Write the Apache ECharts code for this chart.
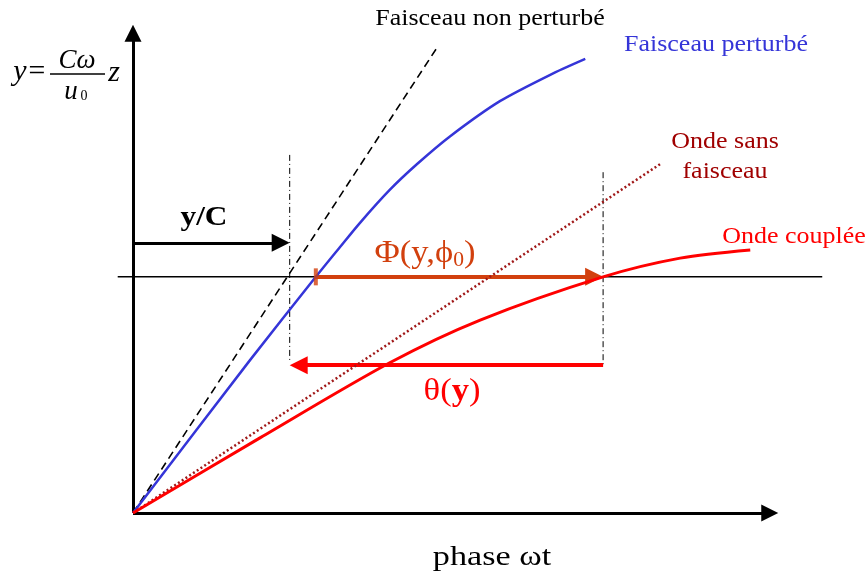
<!DOCTYPE html>
<html>
<head>
<meta charset="utf-8">
<script src="https://cdn.jsdelivr.net/npm/echarts@6/dist/echarts.min.js"></script>
<style>
  html, body { margin: 0; padding: 0; background: #fff; }
  #chart { width: 866px; height: 579px; }
</style>
</head>
<body>
<div id="chart"></div>
<script>
// phase (x) et y en unites arbitraires, un peu de marge autour de l'origine
var xMin = -0.5, xMax = 11.5, yMin = -0.5, yMax = 10.5;

// axes dessines comme des fleches (pointe a l'extremite)
var axeX = [[0, 0], [10.13, 0]];
var axeY = [[0, 0], [0, 10.17]];

var faisceauNonPerturbe = [[0, 0], [4.77, 9.69]];
var faisceauPerturbe = [[0, 0], [1.84, 3.19], [2.87, 4.92], [3.25, 5.54], [3.56, 6.04], [4.03, 6.73],
                        [4.46, 7.27], [4.98, 7.85], [5.76, 8.58], [6.55, 9.13], [7.10, 9.46]];
var ondeSansFaisceau = [[0, 0], [8.30, 7.29]];
var ondeCouplee = [[0, 0], [2.0, 1.57], [4.03, 3.13], [5.45, 4.02], [7.38, 4.92], [8.59, 5.31], [9.69, 5.48]];

// niveau y de reference et reperes verticaux
var niveauRef = [[-0.24, 4.92], [10.82, 4.92]];
var repere1 = [[2.46, 7.46], [2.46, 3.19]];
var repere2 = [[7.38, 7.10], [7.38, 3.08]];

// fleches
var flecheYC = [[0, 5.63], [2.46, 5.63]];
var flechePhi = [[2.87, 4.92], [7.38, 4.92]];
var flecheTheta = [[7.38, 3.08], [2.46, 3.08]];

var serif = '"Liberation Serif", "DejaVu Serif", serif';
var rougePhi = '#D2400E';

var grille = { left: 101.15, right: 0.45, top: 9, bottom: 42 };
var pxParX = (866 - grille.left - grille.right) / (xMax - xMin);
var pxParY = (579 - grille.top - grille.bottom) / (yMax - yMin);

var chart = echarts.init(document.getElementById('chart'));

function txt(text, x, y, size, color, weight, style, sx) {
    return {
        type: 'text', x: x, y: y, scaleX: sx || 1,
        style: {
            text: text, fill: color,
            font: (style || 'normal') + ' ' + (weight || 'normal') + ' ' + size + 'px ' + serif,
            textAlign: 'center', textVerticalAlign: 'middle'
        }
    };
}

// le triangle est centre sur l'extremite : on recule l'extremite d'une demi-taille
function fleche(coords, color, width, size) {
    var a = coords[0], b = coords[1];
    var dx = (b[0] - a[0]) * pxParX, dy = (b[1] - a[1]) * pxParY;
    var len = Math.sqrt(dx * dx + dy * dy);
    var f = (len - size / 2) / len;
    var fin = [a[0] + (b[0] - a[0]) * f, a[1] + (b[1] - a[1]) * f];
    return {
        type: 'lines', coordinateSystem: 'cartesian2d', symbol: ['none', 'triangle'], symbolSize: size,
        lineStyle: { width: width, color: color, opacity: 1 },
        data: [{ coords: [a, fin] }]
    };
}

var axeCache = { show: false };

var option = {
    animation: false,
    grid: grille,
    xAxis: { type: 'value', min: xMin, max: xMax, axisLine: axeCache, axisTick: axeCache, axisLabel: axeCache, splitLine: axeCache },
    yAxis: { type: 'value', min: yMin, max: yMax, axisLine: axeCache, axisTick: axeCache, axisLabel: axeCache, splitLine: axeCache },
    series: [
        { type: 'line', data: niveauRef, symbol: 'none', lineStyle: { color: '#000', width: 1.5 }, z: 1 },
        { type: 'line', data: repere1, symbol: 'none', lineStyle: { color: '#000', width: 1, type: [6, 3, 1, 3] }, z: 1 },
        { type: 'line', data: repere2, symbol: 'none', lineStyle: { color: '#000', width: 1, type: [6, 3, 1, 3] }, z: 1 },
        fleche(axeX, '#000', 3, 17),
        fleche(axeY, '#000', 3, 17),
        { type: 'line', data: faisceauNonPerturbe, symbol: 'none', lineStyle: { color: '#000', width: 1.6, type: [8, 5] } },
        { type: 'line', data: faisceauPerturbe, symbol: 'none', smooth: 0.25, lineStyle: { color: '#3535D8', width: 2.5 } },
        { type: 'line', data: ondeSansFaisceau, symbol: 'none', lineStyle: { color: '#A01818', width: 2.5, type: [2, 2.5] } },
        { type: 'line', data: ondeCouplee, symbol: 'none', smooth: 0.3, lineStyle: { color: '#FF0000', width: 3 } },
        fleche(flecheYC, '#000', 3, 18),
        fleche(flechePhi, rougePhi, 4, 18),
        fleche(flecheTheta, '#FF0000', 4, 18),
        {
            type: 'scatter', data: [flechePhi[0]], symbol: 'rect', symbolSize: [4, 17],
            itemStyle: { color: rougePhi }, z: 5
        }
    ],
    graphic: [
        txt('Faisceau non perturbé', 490, 19, 23, '#000', 'normal', 'normal', 1.13),
        txt('Faisceau perturbé', 716, 45, 23, '#3535D8', 'normal', 'normal', 1.13),
        txt('Onde sans', 725, 142, 23, '#A00000', 'normal', 'normal', 1.13),
        txt('faisceau', 725, 172, 23, '#A00000', 'normal', 'normal', 1.13),
        txt('Onde couplée', 794, 237, 23, '#FF0000', 'normal', 'normal', 1.13),
        txt('y/C', 204, 218, 28, '#000', 'bold', 'normal', 1.12),
        {
            type: 'text', x: 425, y: 254, scaleX: 1.08,
            style: {
                text: '{a|Φ(y,ϕ}{b|0}{a|)}', textAlign: 'center', textVerticalAlign: 'middle',
                rich: {
                    a: { fontFamily: serif, fontSize: 32, fill: rougePhi, color: rougePhi },
                    b: { fontFamily: serif, fontSize: 20, fill: rougePhi, color: rougePhi, padding: [14, 0, 0, 0] }
                }
            }
        },
        {
            type: 'text', x: 452, y: 392, scaleX: 1.08,
            style: {
                text: '{a|θ(}{c|y}{a|)}', textAlign: 'center', textVerticalAlign: 'middle',
                rich: {
                    a: { fontFamily: serif, fontSize: 32, fill: '#FF0000', color: '#FF0000' },
                    c: { fontFamily: serif, fontSize: 32, fontWeight: 'bold', fill: '#FF0000', color: '#FF0000' }
                }
            }
        },
        txt('phase ωt', 492, 558, 28, '#000', 'normal', 'normal', 1.22),
        // formule de y
        txt('y=', 30, 72, 30, '#000', 'normal', 'italic'),
        txt('Cω', 77, 61, 27, '#000', 'normal', 'italic'),
        { type: 'line', shape: { x1: 50, y1: 74, x2: 105, y2: 74 }, style: { stroke: '#000', lineWidth: 1.5 } },
        txt('u', 71, 92, 27, '#000', 'normal', 'italic'),
        txt('0', 84, 96, 14, '#000'),
        txt('z', 114, 73, 30, '#000', 'normal', 'italic')
    ]
};
chart.setOption(option);
</script>
</body>
</html>
